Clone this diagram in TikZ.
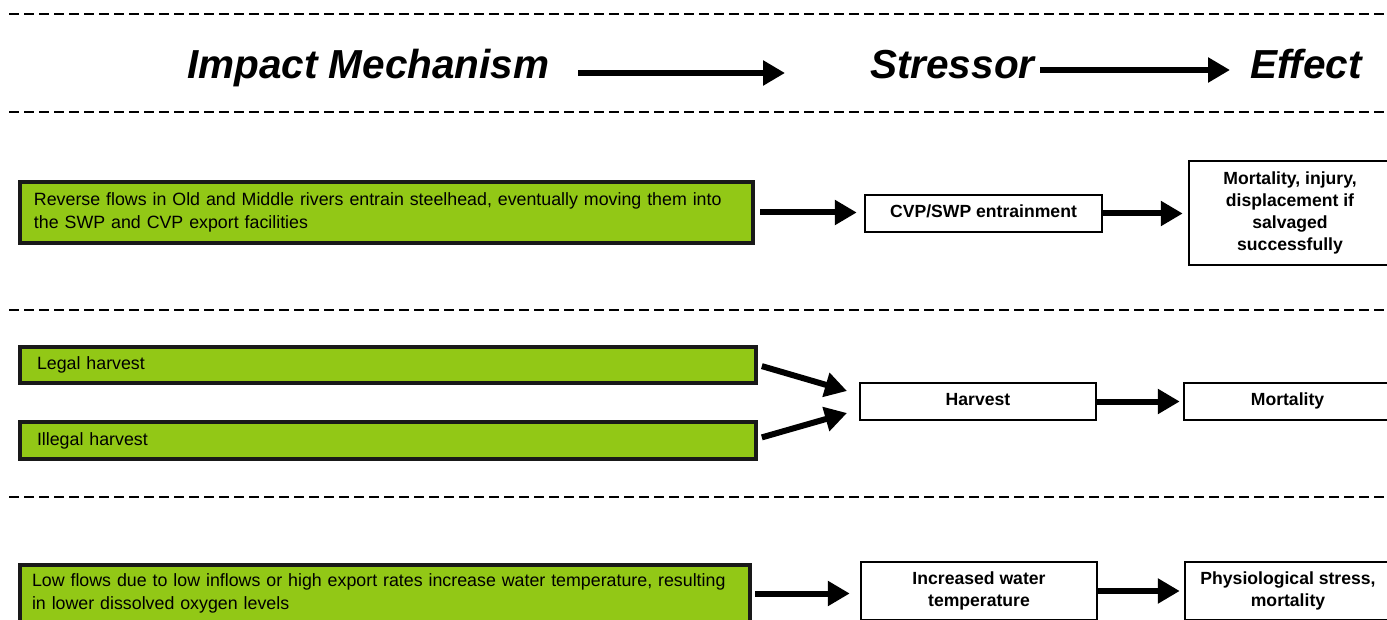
\documentclass[tikz,border=0pt]{standalone}
\usepackage{fontspec}
\setmainfont{Liberation Sans}
\usetikzlibrary{arrows.meta}
\definecolor{mechgreen}{RGB}{146,200,22}
\begin{document}
\begin{tikzpicture}[x=1pt,y=-1pt,
  sepline/.style={line width=2.6pt, dash pattern=on 10pt off 5pt},
  header/.style={inner sep=0pt, anchor=base west,
    font=\fontsize{40.5}{42}\selectfont\bfseries\itshape},
  mech/.style={draw=black!90, line width=4pt, fill=mechgreen, align=left,
    inner sep=0pt, font=\fontsize{17.8}{23}\selectfont},
  res/.style={draw=black, line width=2.5pt, fill=white, align=center,
    inner sep=0pt, font=\fontsize{17.6}{22}\selectfont\bfseries},
  flow/.style={line width=6pt, -{Triangle[length=22pt 0, width=24pt 0]}},
]
\useasboundingbox (0,0) rectangle (1387,620);
\clip (0,0) rectangle (1387,620);

% section separators
\foreach \yy in {14,112,310,497}
  \draw[sepline] (9,\yy) -- (1390,\yy);

% column headings
\node[header] (hmech) at (187,79) {Impact Mechanism};
\node[header] (hstr) at (870,79) {Stressor};
\node[header] (heff) at (1250,79) {Effect};
\draw[flow] (578,73) coordinate (ha) -- (785,73) coordinate (hb);
\draw[flow] (1040,70) coordinate (hc) -- (1230,70) coordinate (hd);

% row 1: entrainment
\node[mech, minimum width=733pt, minimum height=61pt, text width=705pt]
  (m1) at (386.5,212.5)
  {Reverse flows in Old and Middle rivers entrain steelhead, eventually moving them into\\the SWP and CVP export facilities};
\node[res, minimum width=237pt, minimum height=37pt] (cvp) at (983.5,213.5)
  {CVP/SWP entrainment\strut};
\node[res, minimum width=202pt, minimum height=104pt] (e1) at (1290,213)
  {Mortality, injury,\\displacement if\\salvaged\\successfully};
\draw[flow, shorten <=5pt, shorten >=7pt] (m1.east) -- (m1.east -| cvp.west);
\draw[flow, shorten >=5pt] (cvp.east) -- (cvp.east -| e1.west);

% row 2: harvest
\node[mech, minimum width=736pt, minimum height=36pt, text width=702pt]
  (m2) at (388,365) {Legal harvest\strut};
\node[mech, minimum width=736pt, minimum height=37pt, text width=702pt]
  (m3) at (388,440.5) {Illegal harvest\strut};
\node[res, minimum width=236pt, minimum height=37pt] (hv) at (978,401.5)
  {Harvest\strut};
\node[res, minimum width=207pt, minimum height=37pt] (mort) at (1287.5,401.5)
  {Mortality\strut};
\coordinate (hvin1) at (847,391);
\coordinate (hvin2) at (847,413);
\draw[flow, shorten <=4pt] (m2.east) -- (hvin1);
\draw[flow, shorten <=4pt] ([yshift=2pt]m3.east) -- (hvin2);
\draw[flow, shorten >=3pt] (hv.east) -- (hv.east -| mort.west);

% row 3: water temperature
\node[mech, minimum width=730pt, minimum height=57pt, text width=706pt]
  (m4) at (385,593.5)
  {Low flows due to low inflows or high export rates increase water temperature, resulting\\in lower dissolved oxygen levels};
\node[res, minimum width=236pt, minimum height=58pt] (inc) at (979,591)
  {Increased water\\temperature};
\node[res, minimum width=206pt, minimum height=58pt] (phys) at (1288,591)
  {Physiological stress,\\mortality};
\draw[flow, shorten <=3pt, shorten >=10pt] (m4.east) -- (m4.east -| inc.west);
\draw[flow, shorten >=4pt] (inc.east) -- (inc.east -| phys.west);
\end{tikzpicture}
\end{document}
